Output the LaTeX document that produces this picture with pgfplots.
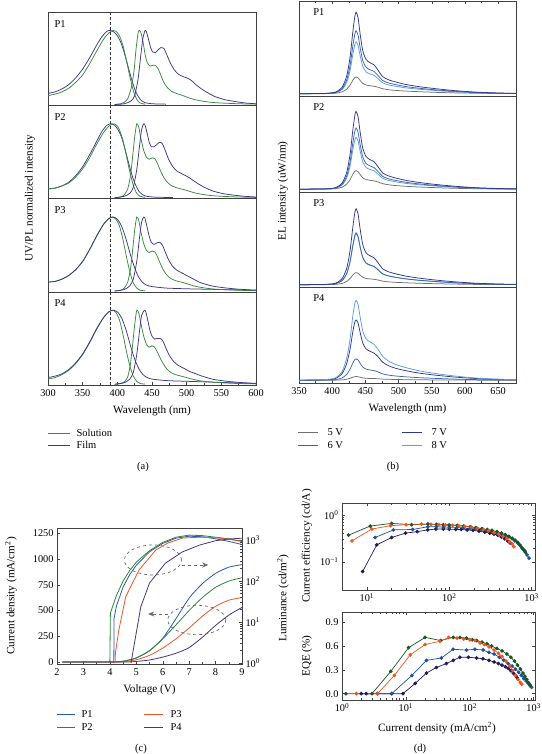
\documentclass[border=0pt]{standalone}
\usepackage{fontspec}
\setmainfont{Liberation Serif}
\usepackage{pgfplots}
\usepackage{pgfplotstable}
\pgfplotsset{compat=1.18}
\usetikzlibrary{arrows.meta}

\definecolor{solg}{RGB}{56,135,62}
\definecolor{filmp}{RGB}{60,55,135}
\definecolor{vgrey}{RGB}{110,110,110}
\definecolor{vsix}{RGB}{60,100,175}
\definecolor{vseven}{RGB}{45,55,140}
\definecolor{veight}{RGB}{90,155,225}
\definecolor{cPa}{RGB}{40,90,170}
\definecolor{cPb}{RGB}{45,130,60}
\definecolor{cPc}{RGB}{235,85,40}
\definecolor{cPd}{RGB}{65,55,125}
\definecolor{dPa}{RGB}{30,80,160}
\definecolor{dPb}{RGB}{25,85,35}
\definecolor{dPc}{RGB}{240,85,30}
\definecolor{dPd}{RGB}{35,25,90}

\pgfplotstableread{
w v5 v6 v7 v8
350 0 0 0 0
390 0.001 0.003 0.004 0.003
405 0.005 0.014 0.018 0.011
415 0.020 0.054 0.070 0.045
422 0.050 0.150 0.194 0.123
427 0.094 0.306 0.396 0.252
431 0.144 0.510 0.660 0.420
434 0.173 0.639 0.827 0.526
436 0.180 0.680 0.880 0.560
439 0.171 0.632 0.818 0.521
442 0.144 0.503 0.651 0.414
446 0.112 0.360 0.466 0.297
451 0.094 0.286 0.370 0.235
457 0.086 0.258 0.334 0.213
463 0.081 0.241 0.312 0.199
469 0.070 0.197 0.255 0.162
476 0.054 0.143 0.185 0.118
485 0.043 0.116 0.150 0.095
495 0.036 0.099 0.128 0.081
510 0.029 0.078 0.101 0.064
530 0.022 0.060 0.077 0.049
555 0.015 0.042 0.055 0.035
585 0.009 0.026 0.033 0.021
620 0.005 0.012 0.016 0.010
655 0.002 0.005 0.007 0.004
677 0.001 0.003 0.004 0.003
}\tbA
\pgfplotstableread{
w v5 v6 v7 v8
350 0 0 0 0
390 0.002 0.003 0.004 0.003
405 0.006 0.013 0.017 0.011
415 0.022 0.053 0.067 0.045
422 0.056 0.145 0.185 0.123
427 0.104 0.297 0.378 0.252
431 0.160 0.495 0.630 0.420
434 0.192 0.620 0.790 0.526
436 0.200 0.660 0.840 0.560
439 0.190 0.614 0.781 0.521
442 0.160 0.488 0.622 0.414
446 0.124 0.350 0.445 0.297
451 0.104 0.277 0.353 0.235
457 0.096 0.251 0.319 0.213
463 0.090 0.234 0.298 0.199
469 0.078 0.191 0.244 0.162
476 0.060 0.139 0.176 0.118
485 0.048 0.112 0.143 0.095
495 0.040 0.096 0.122 0.081
510 0.032 0.076 0.097 0.064
530 0.024 0.058 0.074 0.049
555 0.017 0.041 0.052 0.035
585 0.010 0.025 0.032 0.021
620 0.005 0.012 0.015 0.010
655 0.002 0.005 0.007 0.004
677 0.001 0.003 0.004 0.003
}\tbB
\pgfplotstableread{
w v5 v6 v7 v8
350 0 0 0 0
390 0.001 0.003 0.004 0.003
405 0.004 0.011 0.016 0.011
415 0.014 0.045 0.066 0.044
422 0.036 0.123 0.180 0.121
427 0.068 0.252 0.369 0.248
431 0.104 0.420 0.615 0.413
434 0.125 0.526 0.771 0.517
436 0.130 0.560 0.820 0.550
439 0.124 0.521 0.763 0.512
442 0.104 0.414 0.607 0.407
446 0.081 0.297 0.435 0.292
451 0.068 0.235 0.344 0.231
457 0.062 0.213 0.312 0.209
463 0.059 0.199 0.291 0.195
469 0.051 0.162 0.238 0.160
476 0.039 0.118 0.172 0.116
485 0.031 0.095 0.139 0.094
495 0.026 0.081 0.119 0.080
510 0.021 0.064 0.094 0.063
530 0.016 0.049 0.072 0.048
555 0.011 0.035 0.051 0.034
585 0.007 0.021 0.031 0.021
620 0.003 0.010 0.015 0.010
655 0.002 0.004 0.007 0.004
677 0.001 0.003 0.004 0.003
}\tbC
\pgfplotstableread{
w v5 v6 v7 v8
350 0 0 0 0
390 0.000 0.002 0.005 0.007
405 0.001 0.007 0.020 0.026
415 0.004 0.025 0.072 0.095
422 0.011 0.064 0.182 0.241
427 0.021 0.120 0.338 0.447
431 0.032 0.184 0.520 0.688
434 0.038 0.221 0.624 0.826
436 0.040 0.230 0.650 0.860
439 0.038 0.219 0.618 0.817
442 0.032 0.184 0.520 0.688
446 0.025 0.143 0.403 0.533
451 0.021 0.120 0.338 0.447
457 0.019 0.110 0.312 0.413
463 0.018 0.104 0.293 0.387
469 0.016 0.090 0.254 0.335
476 0.012 0.069 0.195 0.258
485 0.010 0.055 0.156 0.206
495 0.008 0.046 0.130 0.172
510 0.006 0.037 0.104 0.138
530 0.005 0.028 0.078 0.103
555 0.003 0.020 0.055 0.073
585 0.002 0.012 0.034 0.045
620 0.001 0.006 0.017 0.022
655 0.000 0.003 0.008 0.010
677 0.000 0.002 0.005 0.006
}\tbD

\pgfplotsset{
  every axis/.append style={scale only axis, anchor=north west,
    font=\fontsize{10.5}{12}\selectfont,
    /pgf/number format/assume math mode=true,
    /pgf/number format/1000 sep={},
    axis line style={black!75}, every tick/.style={black!75},
    major tick length=3pt, minor tick length=1.8pt,
    tick label style={font=\fontsize{10.3}{11}\selectfont}},
  apanel/.style={width=208pt, height=93.25pt, xmin=300, xmax=600, ymin=-0.01, ymax=1.25,
    ytick=\empty, xtick=\empty, every axis plot/.append style={line width=0.75pt, smooth, tension=0.4}},
  bpanel/.style={width=217pt, height=95.5pt, xmin=350, xmax=677, ymin=-0.03, ymax=1.0,
    ytick=\empty, xtick=\empty, every axis plot/.append style={line width=0.75pt, smooth, tension=0.4}},
}
\newcommand{\lf}{\fontsize{11.2}{13}\selectfont}
\newcommand{\tf}{\fontsize{10.5}{12}\selectfont}

\begin{document}
\begin{tikzpicture}
\useasboundingbox (0pt,0pt) rectangle (541pt,-754pt);

% ---------------- (a) ----------------
\begin{axis}[apanel, at={(48pt,-12pt)}]
\addplot[filmp] coordinates {(300,0.15)(310,0.17)(320,0.21)(330,0.27)(340,0.36)(350,0.48)(360,0.63)(370,0.80)(378,0.92)(385,0.99)(390,1.00)(395,0.98)(400,0.93)(405,0.84)(410,0.70)(415,0.53)(420,0.36)(425,0.21)(430,0.11)(435,0.05)(440,0.025)(450,0.01)(470,0.005)};
\addplot[solg] coordinates {(300,0.12)(310,0.14)(320,0.17)(330,0.22)(340,0.30)(350,0.40)(360,0.55)(370,0.72)(380,0.88)(388,0.97)(394,1.0)(398,0.99)(403,0.93)(408,0.80)(413,0.60)(418,0.38)(423,0.19)(428,0.07)(433,0.02)(440,0.005)};
\addplot[solg] coordinates {(396,0.0)(405,0.01)(410,0.03)(415,0.08)(420,0.22)(424,0.45)(427,0.75)(430,0.97)(432,1.0)(434,0.97)(437,0.85)(440,0.68)(443,0.57)(447,0.52)(451,0.53)(455,0.53)(459,0.48)(463,0.39)(467,0.30)(472,0.23)(478,0.18)(485,0.15)(492,0.13)(500,0.10)(510,0.07)(520,0.05)(535,0.03)(550,0.02)(575,0.01)(600,0.005)};
\addplot[filmp] coordinates {(396,0.0)(410,0.01)(420,0.05)(425,0.12)(430,0.35)(434,0.68)(437,0.90)(440,1.0)(442,0.98)(445,0.88)(448,0.77)(451,0.71)(455,0.70)(459,0.74)(463,0.77)(467,0.76)(471,0.68)(476,0.57)(482,0.47)(488,0.41)(494,0.38)(500,0.36)(506,0.33)(512,0.28)(520,0.22)(530,0.16)(540,0.11)(555,0.065)(570,0.04)(585,0.02)(600,0.01)};
\draw[densely dashed, black!80] (axis cs:390,-0.01) -- (axis cs:390,1.25);
\node[anchor=north west, font=\tf] at (rel axis cs:0.015,0.95) {P1};
\end{axis}

\begin{axis}[apanel, at={(48pt,-105.25pt)}]
\addplot[filmp] coordinates {(300,0.12)(310,0.13)(320,0.16)(330,0.21)(340,0.30)(350,0.42)(360,0.58)(370,0.76)(378,0.90)(385,0.98)(391,1.0)(396,0.98)(401,0.92)(406,0.82)(411,0.66)(416,0.48)(421,0.31)(426,0.18)(431,0.09)(436,0.045)(442,0.02)(455,0.008)(480,0.003)};
\addplot[solg] coordinates {(300,0.12)(310,0.13)(320,0.16)(330,0.20)(340,0.28)(350,0.39)(360,0.54)(370,0.72)(380,0.88)(388,0.97)(394,1.0)(399,0.98)(403,0.92)(408,0.78)(413,0.57)(418,0.35)(423,0.17)(428,0.06)(433,0.02)(440,0.005)};
\addplot[solg] coordinates {(396,0.0)(405,0.01)(410,0.04)(415,0.12)(419,0.30)(422,0.55)(425,0.82)(428,1.0)(431,0.95)(434,0.80)(438,0.64)(442,0.55)(446,0.52)(450,0.54)(454,0.53)(458,0.46)(462,0.37)(466,0.29)(471,0.22)(477,0.17)(484,0.14)(492,0.12)(500,0.10)(510,0.07)(520,0.05)(535,0.03)(550,0.02)(575,0.01)(600,0.005)};
\addplot[filmp] coordinates {(396,0)(410,0.02)(418,0.06)(423,0.14)(428,0.38)(432,0.70)(435,0.92)(438,1.0)(440,0.98)(443,0.87)(446,0.75)(449,0.69)(453,0.69)(457,0.72)(461,0.75)(465,0.73)(469,0.64)(474,0.52)(480,0.42)(486,0.36)(492,0.33)(498,0.30)(504,0.27)(510,0.23)(518,0.18)(528,0.13)(538,0.09)(553,0.055)(568,0.035)(583,0.02)(600,0.01)};
\draw[densely dashed, black!80] (axis cs:390,-0.01) -- (axis cs:390,1.25);
\node[anchor=north west, font=\tf] at (rel axis cs:0.015,0.95) {P2};
\end{axis}

\begin{axis}[apanel, at={(48pt,-198.5pt)}]
\addplot[solg] coordinates {(300,0.12)(310,0.13)(320,0.16)(330,0.21)(340,0.29)(350,0.40)(360,0.56)(370,0.74)(380,0.90)(388,0.98)(393,1.0)(398,0.97)(403,0.88)(408,0.70)(413,0.47)(418,0.26)(423,0.11)(428,0.04)(433,0.01)(440,0.003)};
\addplot[filmp] coordinates {(300,0.12)(310,0.13)(320,0.16)(330,0.21)(340,0.29)(350,0.40)(360,0.56)(370,0.74)(380,0.90)(388,0.98)(394,1.0)(400,0.97)(406,0.88)(412,0.72)(418,0.52)(424,0.34)(430,0.20)(436,0.12)(442,0.08)(450,0.06)(470,0.04)(500,0.03)(550,0.02)(600,0.01)};
\addplot[solg] coordinates {(396,0.0)(405,0.01)(410,0.04)(415,0.12)(419,0.30)(422,0.55)(425,0.82)(428,1.0)(431,0.95)(434,0.80)(438,0.64)(442,0.55)(446,0.52)(450,0.54)(454,0.53)(458,0.46)(462,0.37)(466,0.29)(471,0.22)(477,0.17)(484,0.14)(492,0.12)(500,0.10)(510,0.07)(520,0.05)(535,0.03)(550,0.02)(575,0.01)(600,0.005)};
\addplot[filmp] coordinates {(396,0)(410,0.02)(418,0.07)(423,0.16)(428,0.40)(432,0.72)(435,0.93)(438,1.0)(440,0.98)(443,0.86)(446,0.74)(449,0.66)(453,0.63)(457,0.65)(461,0.66)(465,0.62)(469,0.53)(474,0.42)(480,0.33)(486,0.28)(492,0.25)(498,0.22)(504,0.19)(510,0.16)(518,0.12)(528,0.09)(538,0.065)(553,0.045)(568,0.03)(583,0.02)(600,0.012)};
\draw[densely dashed, black!80] (axis cs:390,-0.01) -- (axis cs:390,1.25);
\node[anchor=north west, font=\tf] at (rel axis cs:0.015,0.95) {P3};
\end{axis}

\begin{axis}[apanel, at={(48pt,-291.75pt)}, xtick={300,350,...,600}, minor x tick num=1, xtick pos=left,
  xticklabel style={yshift=-1pt},
  xlabel={Wavelength (nm)}, xlabel style={font=\lf, yshift=-2pt}]
\addplot[solg] coordinates {(300,0.07)(310,0.09)(320,0.13)(330,0.19)(340,0.28)(350,0.40)(360,0.56)(370,0.74)(380,0.90)(388,0.98)(393,1.0)(398,0.97)(403,0.87)(408,0.68)(413,0.45)(418,0.25)(423,0.11)(428,0.04)(433,0.01)(440,0.003)};
\addplot[filmp] coordinates {(300,0.09)(310,0.11)(320,0.14)(330,0.20)(340,0.29)(350,0.41)(360,0.57)(370,0.75)(380,0.90)(388,0.98)(395,1.0)(401,0.97)(407,0.88)(413,0.72)(419,0.52)(425,0.34)(431,0.21)(437,0.13)(443,0.09)(450,0.07)(470,0.05)(500,0.04)(550,0.025)(600,0.01)};
\addplot[solg] coordinates {(396,0)(405,0.01)(410,0.03)(415,0.10)(419,0.28)(422,0.53)(425,0.80)(428,1.0)(431,0.96)(434,0.82)(438,0.65)(442,0.54)(446,0.50)(450,0.52)(454,0.50)(458,0.43)(462,0.35)(466,0.28)(471,0.21)(477,0.16)(484,0.13)(492,0.11)(500,0.09)(510,0.065)(520,0.045)(535,0.03)(550,0.02)(575,0.01)(600,0.005)};
\addplot[filmp] coordinates {(396,0)(410,0.02)(418,0.07)(423,0.16)(428,0.40)(432,0.72)(435,0.93)(439,1.0)(441,0.98)(444,0.86)(447,0.73)(450,0.65)(454,0.61)(458,0.62)(462,0.62)(466,0.58)(470,0.49)(475,0.39)(481,0.31)(487,0.26)(493,0.23)(499,0.20)(505,0.17)(511,0.15)(519,0.12)(529,0.09)(539,0.065)(554,0.045)(569,0.03)(584,0.02)(600,0.012)};
\draw[densely dashed, black!80] (axis cs:390,-0.01) -- (axis cs:390,1.25);
\node[anchor=north west, font=\tf] at (rel axis cs:0.015,0.95) {P4};
\end{axis}

\node[rotate=90, font=\lf] at (30pt,-198pt) {UV/PL normalized intensity};
\draw[solg, line width=0.9pt] (48pt,-433pt) -- (70pt,-433pt);
\node[anchor=west, font=\tf] at (73pt,-433pt) {Solution};
\draw[filmp, line width=0.9pt] (48pt,-445pt) -- (70pt,-445pt);
\node[anchor=west, font=\tf] at (73pt,-445pt) {Film};
\node[font=\tf] at (143pt,-467pt) {(a)};

% ---------------- (b) ----------------
\begin{axis}[bpanel, at={(299pt,-1pt)}, xtick={350,400,...,650}, minor x tick num=1, xtick pos=right, xticklabels={}]
\addplot[vgrey] table[x=w,y=v5] {\tbA};
\addplot[veight] table[x=w,y=v8] {\tbA};
\addplot[vsix] table[x=w,y=v6] {\tbA};
\addplot[vseven] table[x=w,y=v7] {\tbA};
\node[anchor=north west, font=\tf] at (rel axis cs:0.05,0.96) {P1};
\end{axis}
\begin{axis}[bpanel, at={(299pt,-96.5pt)}]
\addplot[vgrey] table[x=w,y=v5] {\tbB};
\addplot[veight] table[x=w,y=v8] {\tbB};
\addplot[vsix] table[x=w,y=v6] {\tbB};
\addplot[vseven] table[x=w,y=v7] {\tbB};
\node[anchor=north west, font=\tf] at (rel axis cs:0.05,0.96) {P2};
\end{axis}
\begin{axis}[bpanel, at={(299pt,-192pt)}]
\addplot[vgrey] table[x=w,y=v5] {\tbC};
\addplot[veight] table[x=w,y=v8] {\tbC};
\addplot[vsix] table[x=w,y=v6] {\tbC};
\addplot[vseven] table[x=w,y=v7] {\tbC};
\node[anchor=north west, font=\tf] at (rel axis cs:0.05,0.96) {P3};
\end{axis}
\begin{axis}[bpanel, at={(299pt,-287.5pt)}, xtick={350,400,...,650}, minor x tick num=1, xtick pos=left,
  xticklabel style={yshift=-1pt},
  xlabel={Wavelength (nm)}, xlabel style={font=\lf, yshift=-2pt}]
\addplot[vgrey] table[x=w,y=v5] {\tbD};
\addplot[vsix] table[x=w,y=v6] {\tbD};
\addplot[vseven] table[x=w,y=v7] {\tbD};
\addplot[veight] table[x=w,y=v8] {\tbD};
\node[anchor=north west, font=\tf] at (rel axis cs:0.05,0.96) {P4};
\end{axis}

\node[rotate=90, font=\lf] at (283pt,-191pt) {EL intensity (uW/nm)};
\draw[vgrey, line width=0.9pt] (298pt,-432pt) -- (318pt,-432pt);
\node[anchor=west, font=\tf] at (324pt,-432pt) {5 V};
\draw[vsix, line width=0.9pt] (298pt,-445pt) -- (318pt,-445pt);
\node[anchor=west, font=\tf] at (324pt,-445pt) {6 V};
\draw[vseven, line width=0.9pt] (402pt,-432pt) -- (422pt,-432pt);
\node[anchor=west, font=\tf] at (428pt,-432pt) {7 V};
\draw[veight, line width=0.9pt] (402pt,-445pt) -- (422pt,-445pt);
\node[anchor=west, font=\tf] at (428pt,-445pt) {8 V};
\node[font=\tf] at (393pt,-467pt) {(b)};

% ---------------- (c) ----------------
\begin{axis}[at={(57pt,-528pt)}, width=185pt, height=136pt, xmin=2, xmax=9, ymin=-19, ymax=1300,
  xtick={2,...,9}, minor x tick num=1, ytick={0,250,...,1250}, ytick pos=left, xtick pos=left,
  xticklabel style={yshift=-1pt},
  xlabel={Voltage (V)}, xlabel style={font=\lf, yshift=-2pt},
  every axis plot/.append style={line width=0.8pt}]
\addplot[cPa, smooth, tension=0.4] coordinates {(2.2,0)(4.0,0)(4.5,8)(5.0,40)(5.5,110)(6.0,230)(6.5,420)(7.0,620)(7.5,760)(8.0,860)(8.5,920)(9.0,945)};
\addplot[cPb, smooth, tension=0.4] coordinates {(2.2,0)(4.0,0)(4.5,8)(5.0,40)(5.5,110)(6.0,225)(6.5,360)(7.0,500)(7.5,625)(8.0,725)(8.5,785)(9.0,818)};
\addplot[cPc, smooth, tension=0.4] coordinates {(2.2,0)(4.2,0)(4.6,6)(5.0,22)(5.5,65)(6.0,135)(6.5,225)(7.0,330)(7.5,445)(8.0,540)(8.5,600)(9.0,625)};
\addplot[cPd, smooth, tension=0.4] coordinates {(2.2,0)(4.5,0)(5.0,6)(5.5,20)(6.0,48)(6.5,85)(7.0,140)(7.5,240)(8.0,355)(8.5,455)(9.0,530)};
\draw[dashed, black!60, line width=0.7pt] (axis cs:5.63,990) ellipse [x radius=28.5pt, y radius=15pt];
\draw[dashed, black!60, line width=0.7pt, -{Stealth[length=6pt,width=5pt]}] (axis cs:6.72,941) -- (axis cs:7.72,941);
\draw[dashed, black!60, line width=0.7pt] (axis cs:7.29,408) ellipse [x radius=29pt, y radius=14.7pt];
\draw[dashed, black!60, line width=0.7pt, -{Stealth[length=6pt,width=5pt]}] (axis cs:6.21,466) -- (axis cs:5.45,466);
\end{axis}
\begin{axis}[at={(57pt,-528pt)}, width=185pt, height=136pt, xmin=2, xmax=9, ymode=log, ymin=0.946, ymax=1963,
  axis x line=none, axis y line*=right, ytick={1,10,100,1000},
  yticklabels={10\textsuperscript{0},10\textsuperscript{1},10\textsuperscript{2},10\textsuperscript{3}},
  every axis plot/.append style={line width=0.8pt}]
\addplot[cPa] coordinates {(4.15,1)(4.16,12.3)(4.25,24.8)(4.5,71)(4.75,143)(5.0,242)(5.5,515)(6.0,826)(6.5,1106)(7.0,1238)(7.5,1203)(8.0,1070)(8.5,925)(9.0,777)};
\addplot[cPb] coordinates {(4.0,1)(4.02,16.5)(4.25,44.6)(4.5,100)(4.75,180)(5.0,288)(5.5,548)(6.0,874)(6.5,1170)(7.0,1318)(7.5,1280)(8.0,1170)(8.5,1070)(9.0,925)};
\addplot[cPc] coordinates {(4.2,1)(4.21,1.76)(4.34,6.4)(4.6,41.4)(5.1,185)(5.74,570)(6.2,850)(6.76,1119)(7.4,1170)(8.0,1138)(8.5,1040)(9.0,925)};
\addplot[cPd] coordinates {(4.8,1)(5.17,23.4)(5.5,89)(6.1,272)(6.75,515)(7.4,755)(8.0,961)(8.5,1060)(9.0,1106)};
\end{axis}

\node[rotate=90, font=\lf] at (11pt,-596pt) {Current density (mA/cm\textsuperscript{2})};
\node[rotate=90, font=\lf] at (283pt,-598pt) {Luminance (cd/m\textsuperscript{2})};
\draw[cPa, line width=0.9pt] (57pt,-714pt) -- (75pt,-714pt);
\node[anchor=west, font=\tf] at (78pt,-714pt) {P1};
\draw[cPb, line width=0.9pt] (57pt,-727pt) -- (75pt,-727pt);
\node[anchor=west, font=\tf] at (78pt,-727pt) {P2};
\draw[cPc, line width=0.9pt] (144pt,-714pt) -- (163pt,-714pt);
\node[anchor=west, font=\tf] at (167pt,-714pt) {P3};
\draw[cPd, line width=0.9pt] (144pt,-727pt) -- (163pt,-727pt);
\node[anchor=west, font=\tf] at (167pt,-727pt) {P4};
\node[font=\tf] at (141pt,-749pt) {(c)};

% ---------------- (d) ----------------
\begin{axis}[at={(342pt,-503pt)}, width=193pt, height=87pt, xmode=log, ymode=log,
  xmin=5, xmax=1100, ymin=0.025, ymax=1.8,
  xtick={10,100,1000}, xticklabels={10\textsuperscript{1},10\textsuperscript{2},10\textsuperscript{3}},
  ytick={0.1,1}, yticklabels={10\textsuperscript{−1},10\textsuperscript{0}},
  every axis plot/.append style={line width=0.7pt, mark=*, mark size=1.5pt}]
\addplot[dPd] coordinates {(8.9,0.062)(13.2,0.23)(20,0.33)(29.5,0.41)(41,0.44)(55,0.48)(69,0.5)(85,0.5)(100,0.5)(120,0.49)(140,0.49)(165,0.48)(195,0.47)(230,0.45)(270,0.43)(310,0.41)(350,0.39)(390,0.37)(430,0.34)(470,0.31)(510,0.28)(550,0.25)};
\addplot[dPa] coordinates {(12.6,0.33)(21,0.48)(36,0.49)(55,0.56)(70,0.56)(85,0.55)(100,0.55)(125,0.54)(150,0.53)(180,0.51)(210,0.5)(250,0.48)(290,0.46)(330,0.44)(380,0.42)(430,0.39)(480,0.36)(530,0.34)(580,0.31)(630,0.28)(680,0.25)(730,0.22)(780,0.19)(830,0.17)(880,0.14)(930,0.12)};
\addplot[dPb] coordinates {(6.0,0.37)(11,0.58)(20,0.66)(35,0.62)(55,0.64)(70,0.63)(85,0.62)(100,0.61)(125,0.6)(150,0.58)(180,0.56)(210,0.54)(250,0.51)(290,0.49)(330,0.47)(380,0.44)(430,0.41)(480,0.38)(530,0.35)(580,0.32)(630,0.29)(680,0.26)(720,0.23)(760,0.2)(800,0.18)(840,0.16)};
\addplot[dPc] coordinates {(6.6,0.28)(11.5,0.5)(19.4,0.59)(30,0.62)(46,0.64)(60,0.63)(75,0.62)(90,0.61)(110,0.6)(130,0.59)(155,0.57)(185,0.55)(220,0.52)(260,0.49)(300,0.46)(350,0.42)(400,0.39)(450,0.35)(500,0.31)(540,0.27)(580,0.24)(610,0.21)};
\end{axis}

\begin{axis}[at={(342pt,-612pt)}, width=193pt, height=88pt, xmode=log,
  xmin=1, xmax=1050, ymin=-0.08, ymax=1.03,
  xtick={1,10,100,1000}, xticklabels={10\textsuperscript{0},10\textsuperscript{1},10\textsuperscript{2},10\textsuperscript{3}},
  ytick={0,0.3,0.6,0.9}, yticklabel style={/pgf/number format/.cd, fixed, fixed zerofill, precision=1},
  every axis plot/.append style={line width=0.7pt, mark=*, mark size=1.5pt}]
\addplot[dPd] coordinates {(2,0)(2.4,0)(3.6,0)(6,0)(9,0)(14,0.13)(21,0.26)(30,0.33)(43,0.38)(55,0.42)(70,0.46)(95,0.46)(128,0.45)(160,0.44)(200,0.42)(240,0.4)(280,0.38)(320,0.36)(360,0.34)(400,0.32)(440,0.29)(480,0.26)(520,0.23)(550,0.2)};
\addplot[dPa] coordinates {(3.6,0)(6,0)(12.4,0.23)(21,0.42)(36,0.45)(55,0.56)(89,0.55)(120,0.56)(162,0.55)(200,0.52)(240,0.5)(290,0.46)(340,0.42)(400,0.38)(460,0.35)(520,0.31)(580,0.27)(640,0.23)(700,0.19)(760,0.16)(820,0.13)(880,0.1)(930,0.08)};
\addplot[dPb] coordinates {(1.15,0)(2.94,0)(5.8,0.28)(11,0.58)(20,0.71)(35,0.67)(55,0.71)(70,0.71)(89,0.7)(110,0.68)(128,0.67)(155,0.65)(185,0.63)(220,0.6)(265,0.57)(320,0.54)(380,0.5)(440,0.46)(500,0.41)(560,0.36)(620,0.31)(680,0.26)(730,0.22)(780,0.18)(830,0.14)(880,0.11)};
\addplot[dPc] coordinates {(1.67,0)(3.6,0)(6.6,0.23)(11.7,0.49)(20,0.62)(34,0.66)(47,0.71)(63,0.7)(80,0.69)(100,0.68)(120,0.67)(145,0.64)(170,0.62)(200,0.59)(240,0.55)(280,0.51)(320,0.47)(370,0.41)(420,0.35)(470,0.29)(520,0.23)(570,0.18)(620,0.14)(650,0.12)};
\end{axis}

\node[rotate=90, font=\lf] at (307pt,-546pt) {Current efficiency (cd/A)};
\node[rotate=90, font=\lf] at (307pt,-656pt) {EQE (\%)};
\node[font=\lf] at (437pt,-728pt) {Current density (mA/cm\textsuperscript{2})};
\node[font=\tf] at (420pt,-749pt) {(d)};
\end{tikzpicture}
\end{document}
